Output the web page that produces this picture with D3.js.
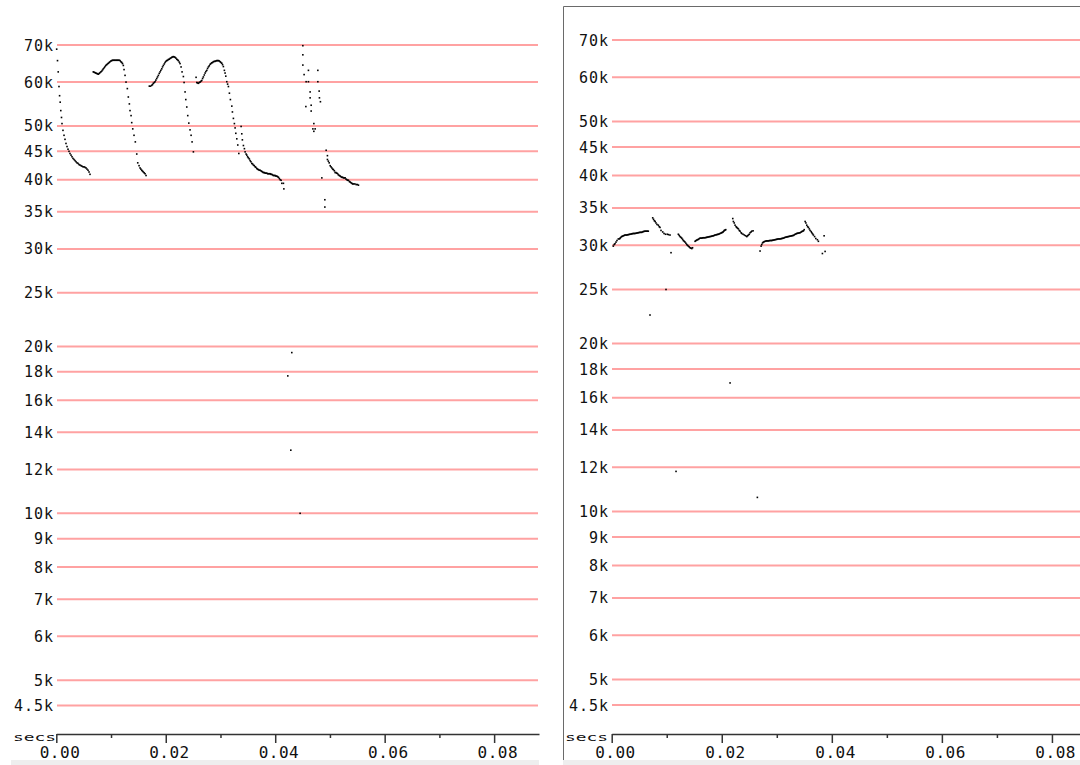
<!DOCTYPE html>
<html>
<head>
<meta charset="utf-8">
<script src="https://cdn.jsdelivr.net/npm/d3@7.9.0/dist/d3.min.js"></script>
<style>
  body { margin: 0; background: #fff; }
  svg { display: block; }
  text { font-family: 'DejaVu Sans Mono', monospace; fill: #111; }
</style>
</head>
<body>
<svg id="chart" width="1080" height="765"></svg>
<script>
// ========================
// Data (time in s, frequency in Hz)
// ========================

const freqTicks = [4500, 5000, 6000, 7000, 8000, 9000, 10000, 12000, 14000, 16000,
  18000, 20000, 25000, 30000, 35000, 40000, 45000, 50000, 60000, 70000];
const timeMajor = [0, 0.02, 0.04, 0.06, 0.08];
const timeMinor = [0.01, 0.03, 0.05, 0.07];

// left recording
const leftA = [[0.00007,68800],[0.00022,65600],[0.00035,62600],[0.00049,58900],[0.00060,56700],[0.00071,55200],[0.00082,53300],[0.00095,51800],[0.00104,50500],[0.00122,49100],[0.00141,48100],[0.00159,47300],[0.00177,46500],[0.00196,45900],[0.00214,45400],[0.00232,45000],[0.00250,44600],[0.00269,44300],[0.00287,44000],[0.00305,43700],[0.00324,43500],[0.00342,43300],[0.00360,43100],[0.00378,42900],[0.00397,42800],[0.00415,42600],[0.00433,42500],[0.00452,42400],[0.00470,42300],[0.00488,42200],[0.00506,42200],[0.00525,42100],[0.00543,42000],[0.00561,41800],[0.00580,41600],[0.00598,41300],[0.00616,40900]];

const leftB = [[0.00676,62600],[0.00692,62500],[0.00708,62400],[0.00722,62300],[0.00739,62200],[0.00753,62100],[0.00768,62000],[0.00784,62200],[0.00799,62400],[0.00815,62600],[0.00830,62800],[0.00845,63100],[0.00859,63400],[0.00876,63700],[0.00890,64000],[0.00905,64300],[0.00921,64500],[0.00936,64700],[0.00951,64900],[0.00967,65100],[0.00982,65300],[0.00998,65500],[0.01013,65600],[0.01027,65700],[0.01042,65700],[0.01058,65700],[0.01073,65700],[0.01089,65700],[0.01104,65700],[0.01119,65700],[0.01133,65700],[0.01150,65700],[0.01165,65600],[0.01180,65300],[0.01196,65100],[0.01210,64800],[0.01225,64300],[0.01238,63200],[0.01256,61700],[0.01274,60000],[0.01298,58400],[0.01316,56400],[0.01335,54800],[0.01347,53300],[0.01366,52200],[0.01378,50700],[0.01397,49400],[0.01420,48100],[0.01444,46800],[0.01470,44500],[0.01488,42900],[0.01512,42400],[0.01530,42000],[0.01545,41800],[0.01561,41600],[0.01575,41450],[0.01590,41300],[0.01606,41150],[0.01622,41000],[0.01640,40700]];

const leftC = [[0.01700,59000],[0.01722,59000],[0.01744,59200],[0.01759,59400],[0.01773,59700],[0.01790,59900],[0.01804,60100],[0.01819,60500],[0.01835,60900],[0.01850,61300],[0.01865,61700],[0.01881,62200],[0.01896,62600],[0.01910,63000],[0.01927,63400],[0.01941,63900],[0.01956,64300],[0.01973,64700],[0.01987,65100],[0.02002,65400],[0.02019,65600],[0.02033,65700],[0.02048,65900],[0.02064,66000],[0.02079,66200],[0.02093,66300],[0.02110,66500],[0.02124,66600],[0.02139,66700],[0.02155,66600],[0.02170,66500],[0.02185,66300],[0.02201,66000],[0.02216,65800],[0.02230,65600],[0.02247,65200],[0.02261,64800],[0.02280,63900],[0.02298,62600],[0.02322,61400],[0.02335,59900],[0.02353,57600],[0.02366,55800],[0.02384,54100],[0.02402,52200],[0.02421,50600],[0.02444,49200],[0.02463,48100],[0.02481,46800],[0.02505,44900]];

const leftD = [[0.02554,61200],[0.02567,59900],[0.02581,59800],[0.02596,59700],[0.02612,59900],[0.02627,60000],[0.02642,60200],[0.02658,60400],[0.02673,60900],[0.02687,61300],[0.02704,61800],[0.02719,62300],[0.02733,62700],[0.02750,63000],[0.02764,63500],[0.02779,63900],[0.02795,64200],[0.02810,64600],[0.02825,64800],[0.02841,65000],[0.02856,65100],[0.02870,65300],[0.02887,65400],[0.02901,65400],[0.02916,65500],[0.02932,65600],[0.02947,65600],[0.02962,65600],[0.02978,65500],[0.02993,65300],[0.03007,65100],[0.03024,64900],[0.03038,64500],[0.03053,64000],[0.03071,63000],[0.03084,62300],[0.03097,61500],[0.03115,60100],[0.03130,59500],[0.03145,58900],[0.03163,57300],[0.03181,55800],[0.03207,54300],[0.03218,53000],[0.03236,51600],[0.03254,50500],[0.03267,49600],[0.03280,48500],[0.03298,47400],[0.03316,46200],[0.03335,44600]];

const leftE = [[0.03377,49900],[0.03389,48400],[0.03400,47200],[0.03419,46100],[0.03437,45500],[0.03450,44900],[0.03468,44500],[0.03481,44300],[0.03496,44000],[0.03510,43800],[0.03527,43600],[0.03541,43300],[0.03556,43100],[0.03572,42800],[0.03587,42700],[0.03602,42500],[0.03618,42400],[0.03633,42200],[0.03647,42100],[0.03664,41900],[0.03678,41800],[0.03693,41700],[0.03709,41600],[0.03724,41600],[0.03739,41500],[0.03755,41400],[0.03770,41300],[0.03784,41200],[0.03801,41200],[0.03816,41100],[0.03830,41100],[0.03847,41100],[0.03861,41000],[0.03876,41000],[0.03892,41000],[0.03907,41000],[0.03921,40900],[0.03937,40900],[0.03952,40800],[0.03967,40700],[0.03984,40700],[0.03998,40700],[0.04013,40600],[0.04029,40600],[0.04044,40500],[0.04059,40400],[0.04075,40200],[0.04090,40000],[0.04108,39900],[0.04121,39400],[0.04150,39400],[0.04158,38500]];

const leftF = [[0.04505,69800],[0.04505,67200],[0.04505,64400],[0.04528,61900],[0.04560,54200],[0.04565,60100],[0.04607,63000],[0.04607,60100],[0.04638,57600],[0.04638,56200],[0.04657,54500],[0.04657,53200],[0.04688,49400],[0.04706,50500],[0.04706,48900],[0.04730,49400],[0.04779,63000],[0.04779,60100],[0.04803,57800],[0.04808,56200],[0.04826,55300],[0.04852,40300],[0.04907,36800],[0.04907,35700]];

const leftG = [[0.04931,45200],[0.04954,44200],[0.04954,43500],[0.04971,43200],[0.04986,42900],[0.05004,42400],[0.05019,42200],[0.05035,42000],[0.05050,41800],[0.05064,41700],[0.05081,41500],[0.05095,41200],[0.05110,41200],[0.05126,41100],[0.05141,41000],[0.05155,40800],[0.05172,40700],[0.05187,40600],[0.05201,40500],[0.05218,40400],[0.05232,40400],[0.05247,40300],[0.05263,40300],[0.05278,40300],[0.05293,40100],[0.05309,40000],[0.05324,39900],[0.05338,39900],[0.05355,39700],[0.05370,39600],[0.05384,39500],[0.05401,39400],[0.05415,39300],[0.05430,39300],[0.05455,39300],[0.05479,39200],[0.05501,39200],[0.05521,39100]];

const leftLow = [[0.04303,19500],[0.04230,17700],[0.04285,13000],[0.04455,10000]];

// right recording
const rightA = [[0.00029,29900],[0.00045,30100],[0.00060,30200],[0.00078,30400],[0.00096,30600],[0.00120,30800],[0.00142,30800],[0.00151,30900],[0.00166,31000],[0.00182,31100],[0.00196,31150],[0.00211,31200],[0.00227,31250],[0.00242,31300],[0.00258,31300],[0.00273,31300],[0.00288,31330],[0.00302,31350],[0.00318,31380],[0.00333,31400],[0.00349,31420],[0.00364,31450],[0.00378,31480],[0.00393,31500],[0.00409,31500],[0.00424,31500],[0.00440,31530],[0.00455,31550],[0.00470,31580],[0.00484,31600],[0.00500,31630],[0.00515,31650],[0.00530,31650],[0.00545,31650],[0.00560,31700],[0.00575,31750],[0.00590,31780],[0.00605,31800],[0.00620,31800],[0.00636,31800],[0.00650,31800],[0.00665,31800]];

const rightB = [[0.00745,33600],[0.00760,33400],[0.00775,33200],[0.00790,33100],[0.00805,32900],[0.00823,32700],[0.00847,32600],[0.00863,32400],[0.00878,32300],[0.00896,31900],[0.00927,31700],[0.00951,31500],[0.00978,31400],[0.01011,31400],[0.01033,31350],[0.01060,31300],[0.01078,29100]];

const rightC = [[0.01211,31400],[0.01227,31250],[0.01242,31100],[0.01258,31000],[0.01273,30900],[0.01288,30750],[0.01302,30600],[0.01318,30500],[0.01333,30400],[0.01349,30250],[0.01364,30100],[0.01378,30000],[0.01393,29900],[0.01409,29800],[0.01424,29700],[0.01440,29650],[0.01455,29600],[0.01469,29700],[0.01515,30500],[0.01530,30580],[0.01545,30650],[0.01560,30700],[0.01575,30750],[0.01590,30830],[0.01605,30900],[0.01620,30900],[0.01636,30900],[0.01650,30930],[0.01665,30950],[0.01680,30950],[0.01696,30950],[0.01712,30980],[0.01727,31000],[0.01741,31030],[0.01756,31050],[0.01772,31080],[0.01787,31100],[0.01803,31120],[0.01818,31150],[0.01833,31180],[0.01847,31200],[0.01863,31250],[0.01878,31300],[0.01894,31320],[0.01909,31350],[0.01924,31380],[0.01938,31400],[0.01954,31450],[0.01969,31500],[0.01985,31550],[0.02000,31600],[0.02012,31650],[0.02024,31700],[0.02036,31800],[0.02047,31900],[0.02060,31950],[0.02073,32000]];

const rightD = [[0.02200,33500],[0.02211,33100],[0.02227,32900],[0.02242,32600],[0.02260,32400],[0.02273,32300],[0.02287,32200],[0.02302,32100],[0.02318,31900],[0.02333,31800],[0.02351,31600],[0.02364,31500],[0.02387,31400],[0.02411,31300],[0.02433,31200],[0.02455,31100],[0.02469,31200],[0.02484,31300],[0.02500,31400],[0.02515,31600],[0.02533,31700],[0.02545,31800],[0.02569,31850]];

const rightE = [[0.02696,29300],[0.02715,29900],[0.02727,30100],[0.02742,30300],[0.02756,30400],[0.02771,30450],[0.02787,30500],[0.02803,30530],[0.02818,30550],[0.02833,30550],[0.02847,30550],[0.02863,30580],[0.02878,30600],[0.02894,30600],[0.02909,30600],[0.02924,30630],[0.02938,30650],[0.02954,30680],[0.02969,30700],[0.02985,30730],[0.03000,30750],[0.03015,30780],[0.03029,30800],[0.03045,30800],[0.03060,30800],[0.03076,30830],[0.03091,30850],[0.03105,30880],[0.03120,30900],[0.03136,30950],[0.03151,31000],[0.03167,31030],[0.03182,31050],[0.03196,31080],[0.03211,31100],[0.03227,31130],[0.03242,31150],[0.03258,31180],[0.03273,31200],[0.03287,31230],[0.03302,31250],[0.03318,31320],[0.03333,31400],[0.03349,31450],[0.03364,31500],[0.03378,31530],[0.03393,31550],[0.03409,31580],[0.03424,31600],[0.03440,31680],[0.03455,31750],[0.03470,31800],[0.03484,31850],[0.03498,32000]];

const rightF = [[0.03515,33100],[0.03529,32900],[0.03545,32600],[0.03560,32400],[0.03575,32300],[0.03591,32100],[0.03605,31900],[0.03624,31750],[0.03636,31600],[0.03651,31450],[0.03665,31300],[0.03687,31100],[0.03709,30850],[0.03738,30700],[0.03756,30500],[0.03860,31200],[0.03878,29250],[0.03829,29000]];

const rightLow = [[0.00987,25000],[0.00696,22500],[0.02151,17000],[0.01169,11800],[0.02647,10600]];

// ========================
// Drawing
// ========================

const svg = d3.select('#chart');

const panels = [
  {
    xRange: [56.3, 539], xMax: 0.0882,
    yRange: [705.5, 45],
    gridX: [57, 538], labelX: 53, secsX: 13,
    band: [11, 539],
    series: [leftA, leftB, leftC, leftD, leftE, leftF, leftG, leftLow],
  },
  {
    xRange: [611.7, 1080], xMax: 0.0851,
    yRange: [705, 40],
    gridX: [612, 1080], labelX: 608, secsX: 565,
    band: [563, 1080],
    series: [rightA, rightB, rightC, rightD, rightE, rightF, rightLow],
  },
];

const axisY = 734;
const kFormat = (v) => (v / 1000) + 'k';

// frame round the right panel
svg.append('path')
  .attr('d', 'M563.5,765V6.5H1080')
  .attr('fill', 'none')
  .attr('stroke', '#6a6a6a')
  .attr('stroke-width', 1);

panels.forEach((p) => {
  const x = d3.scaleLinear().domain([0, p.xMax]).range(p.xRange);
  const y = d3.scaleLog().domain([4500, 70000]).range(p.yRange);

  const g = svg.append('g');

  // gridlines
  g.selectAll('line.grid')
    .data(freqTicks)
    .join('line')
    .attr('class', 'grid')
    .attr('x1', p.gridX[0])
    .attr('x2', p.gridX[1])
    .attr('y1', (d) => y(d))
    .attr('y2', (d) => y(d))
    .attr('stroke', '#ffa2a2')
    .attr('stroke-width', 2);

  // frequency labels
  g.selectAll('text.ylab')
    .data(freqTicks)
    .join('text')
    .attr('class', 'ylab')
    .attr('x', p.labelX + 1)
    .attr('y', (d) => y(d) + 5.5)
    .attr('text-anchor', 'end')
    .style('font-size', '15px')
    .style('letter-spacing', '1px')
    .text(kFormat);

  // time axis
  const axisG = g.append('g').attr('transform', `translate(0,${axisY})`);
  axisG.call(
    d3.axisBottom(x)
      .tickValues(timeMajor)
      .tickSize(9)
      .tickSizeOuter(0)
      .tickFormat(d3.format('.2f'))
  );
  axisG.select('.domain').attr('stroke', '#333').attr('stroke-width', 1.5);
  axisG.selectAll('.tick line').attr('stroke', '#333').attr('stroke-width', 1.5);
  axisG.selectAll('.tick text')
    .attr('y', 24)
    .attr('dy', 0)
    .attr('dx', '0.2em')
    .attr('fill', '#111')
    .style('font-family', "'DejaVu Sans Mono', monospace")
    .style('font-size', '16px')
    .style('letter-spacing', '0.5px');

  const minorG = g.append('g').attr('transform', `translate(0,${axisY})`);
  minorG.call(
    d3.axisBottom(x).tickValues(timeMinor).tickSize(4).tickSizeOuter(0).tickFormat('')
  );
  minorG.select('.domain').remove();
  minorG.selectAll('.tick line').attr('stroke', '#333').attr('stroke-width', 1.5);

  // 'secs' caption
  g.append('text')
    .attr('x', p.secsX)
    .attr('y', axisY + 7)
    .attr('textLength', 43)
    .attr('lengthAdjust', 'spacingAndGlyphs')
    .style('font-size', '11px')
    .text('secs');

  // bottom strip
  g.append('rect')
    .attr('x', p.band[0])
    .attr('y', 760)
    .attr('width', p.band[1] - p.band[0])
    .attr('height', 5)
    .attr('fill', '#eeeeee');

  // measured points
  const pts = p.series.flat();
  g.selectAll('rect.dot')
    .data(pts)
    .join('rect')
    .attr('class', 'dot')
    .attr('x', (d) => x(d[0]) - 0.8)
    .attr('y', (d) => y(d[1]) - 0.8)
    .attr('width', 1.6)
    .attr('height', 1.6)
    .attr('fill', '#000');
});
</script>
</body>
</html>
